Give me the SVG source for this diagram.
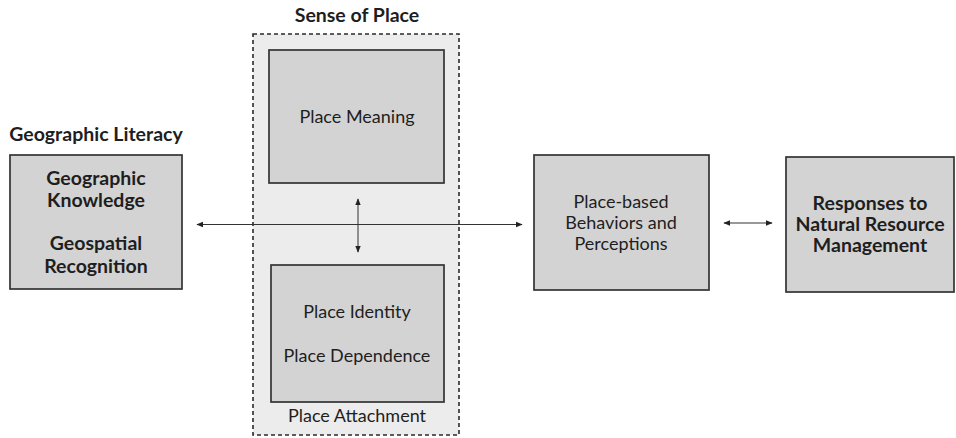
<svg xmlns="http://www.w3.org/2000/svg" width="956" height="438" viewBox="0 0 956 438">
<defs>
<marker id="ah" viewBox="0 0 10 10" refX="9" refY="5" markerWidth="7" markerHeight="7" orient="auto-start-reverse" markerUnits="userSpaceOnUse">
<path d="M0,1 L10,5 L0,9 Z" fill="#222"/>
</marker>
<style>
.t{font-family:Lato,"Open Sans","Liberation Sans",sans-serif;font-size:18px;fill:#1e1e1e;text-anchor:middle}
.b{font-weight:bold;font-size:19.5px}
.box{fill:#d3d3d3;stroke:#333;stroke-width:1.7}
.ln{stroke:#333;stroke-width:1;fill:none}
</style>
</defs>
<rect width="956" height="438" fill="#fff"/>
<g id="sense-of-place">
<rect x="253" y="34" width="206" height="401" fill="#ececec" stroke="#2a2a2a" stroke-width="1.6" stroke-dasharray="4,3"/>
<text class="t b" x="357" y="22">Sense of Place</text>
<text class="t" x="357" y="422">Place Attachment</text>
</g>
<g id="geographic-literacy">
<text class="t b" x="96" y="141">Geographic Literacy</text>
<rect class="box" x="10" y="155" width="172" height="134"/>
<text class="t b" x="96" y="185">Geographic</text>
<text class="t b" x="96" y="207">Knowledge</text>
<text class="t b" x="96" y="250">Geospatial</text>
<text class="t b" x="96" y="273">Recognition</text>
</g>
<g id="place-meaning">
<rect class="box" x="269" y="50" width="175" height="133"/>
<text class="t" x="357" y="123">Place Meaning</text>
</g>
<g id="place-attachment">
<rect class="box" x="271" y="265" width="173" height="137"/>
<text class="t" x="357" y="318">Place Identity</text>
<text class="t" x="357" y="362">Place Dependence</text>
</g>
<g id="place-based">
<rect class="box" x="534" y="155" width="175" height="135"/>
<text class="t" x="621" y="208">Place-based</text>
<text class="t" x="621" y="229">Behaviors and</text>
<text class="t" x="621" y="250">Perceptions</text>
</g>
<g id="responses">
<rect class="box" x="786" y="157" width="168" height="135"/>
<text class="t b" x="870" y="210">Responses to</text>
<text class="t b" x="870" y="231">Natural Resource</text>
<text class="t b" x="870" y="252">Management</text>
</g>
<g id="connectors">
<line class="ln" x1="197" y1="224.5" x2="522" y2="224.5" marker-start="url(#ah)" marker-end="url(#ah)"/>
<line class="ln" x1="358" y1="199" x2="358" y2="252" marker-start="url(#ah)" marker-end="url(#ah)"/>
<line class="ln" x1="724" y1="223" x2="772" y2="223" marker-start="url(#ah)" marker-end="url(#ah)"/>
</g>
</svg>
